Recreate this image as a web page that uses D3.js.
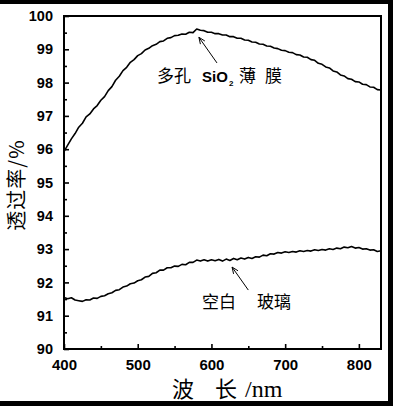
<!DOCTYPE html>
<html>
<head>
<meta charset="utf-8">
<script src="https://cdn.jsdelivr.net/npm/d3@7"></script>
<style>
  html, body { margin: 0; padding: 0; background: #fff; }
  svg { display: block; }
</style>
</head>
<body>
<svg id="chart" width="393" height="406"></svg>
<script>
// ---- data ----
const wavelengths = d3.range(400, 831, 5); // nm, 400..830 step 5
const porousSiO2 = [95.93, 96.12, 96.31, 96.47, 96.66, 96.78, 96.97, 97.06, 97.21, 97.31,
  97.47, 97.58, 97.76, 97.88, 98.07, 98.19, 98.36, 98.46, 98.61, 98.69,
  98.81, 98.87, 98.98, 99.03, 99.11, 99.15, 99.23, 99.25, 99.33, 99.35,
  99.41, 99.42, 99.46, 99.45, 99.51, 99.5, 99.61, 99.57, 99.56, 99.51,
  99.51, 99.47, 99.47, 99.43, 99.43, 99.38, 99.38, 99.33, 99.33, 99.28,
  99.27, 99.22, 99.21, 99.16, 99.15, 99.1, 99.09, 99.04, 99.02, 98.97,
  98.96, 98.91, 98.9, 98.84, 98.83, 98.77, 98.76, 98.69, 98.67, 98.58,
  98.55, 98.47, 98.44, 98.35, 98.32, 98.23, 98.2, 98.12, 98.1, 98.03,
  98.02, 97.95, 97.94, 97.87, 97.86, 97.79, 97.78];
const blankGlass = [91.55, 91.51, 91.54, 91.47, 91.45, 91.43, 91.48, 91.47, 91.53, 91.52,
  91.58, 91.6, 91.66, 91.69, 91.76, 91.78, 91.86, 91.89, 91.96, 91.98,
  92.05, 92.08, 92.16, 92.18, 92.27, 92.29, 92.37, 92.37, 92.44, 92.44,
  92.49, 92.48, 92.54, 92.53, 92.6, 92.6, 92.67, 92.64, 92.68, 92.64,
  92.68, 92.65, 92.69, 92.64, 92.7, 92.66, 92.72, 92.68, 92.73, 92.7,
  92.75, 92.72, 92.77, 92.76, 92.82, 92.8, 92.86, 92.85, 92.9, 92.88,
  92.92, 92.9, 92.93, 92.91, 92.95, 92.93, 92.96, 92.94, 92.98, 92.96,
  92.99, 92.97, 93.01, 92.99, 93.03, 93.01, 93.06, 93.04, 93.08, 93.03,
  93.05, 93.0, 93.01, 92.97, 92.98, 92.93, 92.95];
const xTicks = [400, 500, 600, 700, 800];
const xMinorTicks = [450, 550, 650, 750];
const yTicks = [90, 91, 92, 93, 94, 95, 96, 97, 98, 99, 100];
const yMinorTicks = [90.5, 91.5, 92.5, 93.5, 94.5, 95.5, 96.5, 97.5, 98.5, 99.5];

// ---- layout ----
const svg = d3.select("#chart");
const W = 393, H = 406;
const mLeft = 64, mRight = 381, mTop = 16, mBottom = 349;
const x = d3.scaleLinear().domain([400, 830]).range([mLeft, mRight]);
const y = d3.scaleLinear().domain([90, 100]).range([mBottom, mTop]);

svg.append("rect").attr("width", W).attr("height", H).attr("fill", "#fff");
// scanned-image black edges
svg.append("rect").attr("x", 0).attr("y", 0).attr("width", W).attr("height", 4).attr("fill", "#000");
svg.append("rect").attr("x", 388).attr("y", 0).attr("width", 5).attr("height", H).attr("fill", "#000");
svg.append("rect").attr("x", 0).attr("y", 401).attr("width", W).attr("height", 5).attr("fill", "#000");

const tickFont = "'Liberation Sans', Arial, sans-serif";
const cjk = "'Noto Sans CJK SC', sans-serif";

// axes (ticks pointing inward)
const xAxis = svg.append("g").attr("transform", `translate(0,${mBottom})`)
  .call(d3.axisBottom(x).tickValues(xTicks).tickSize(-5).tickPadding(10).tickFormat(d3.format("d")));
const xMinor = svg.append("g").attr("transform", `translate(0,${mBottom})`)
  .call(d3.axisBottom(x).tickValues(xMinorTicks).tickSize(-3).tickFormat(""));
const yAxis = svg.append("g").attr("transform", `translate(${mLeft},0)`)
  .call(d3.axisLeft(y).tickValues(yTicks).tickSize(-5).tickPadding(11).tickFormat(d3.format("d")));
const yMinor = svg.append("g").attr("transform", `translate(${mLeft},0)`)
  .call(d3.axisLeft(y).tickValues(yMinorTicks).tickSize(-3).tickFormat(""));

[xAxis, xMinor, yAxis, yMinor].forEach(g => {
  g.select(".domain").remove();
  g.selectAll(".tick line").attr("stroke", "#000").attr("stroke-width", 1.6);
  g.selectAll(".tick text").attr("fill", "#000").style("font-family", tickFont)
    .style("font-weight", "bold");
});
xAxis.selectAll(".tick text").style("font-size", "15px");
yAxis.selectAll(".tick text").style("font-size", "14.5px");

// frame
svg.append("rect").attr("x", mLeft).attr("y", mTop)
  .attr("width", mRight - mLeft).attr("height", mBottom - mTop)
  .attr("fill", "none").attr("stroke", "#000").attr("stroke-width", 2);

// lines
const line = d3.line().x((d, i) => x(wavelengths[i])).y(d => y(d));
[porousSiO2, blankGlass].forEach(s => {
  svg.append("path").datum(s).attr("d", line)
    .attr("fill", "none").attr("stroke", "#000").attr("stroke-width", 1.6)
    .attr("stroke-linejoin", "round");
});

// arrows (annotation, in data units)
function arrow(x0, y0, x1, y1) {
  const px0 = x(x0), py0 = y(y0), px1 = x(x1), py1 = y(y1);
  const a = Math.atan2(py1 - py0, px1 - px0), L = 7, s = 0.4;
  svg.append("line").attr("x1", px0).attr("y1", py0).attr("x2", px1).attr("y2", py1)
    .attr("stroke", "#000").attr("stroke-width", 1);
  svg.append("path")
    .attr("d", `M${px1 - L * Math.cos(a - s)},${py1 - L * Math.sin(a - s)} L${px1},${py1} L${px1 - L * Math.cos(a + s)},${py1 - L * Math.sin(a + s)}`)
    .attr("fill", "none").attr("stroke", "#000").attr("stroke-width", 1);
}
arrow(607.5, 98.59, 583, 99.36);
arrow(650, 91.77, 628, 92.46);

// annotation labels
function label(px, py, txt, font, size, weight) {
  return svg.append("text").attr("x", px).attr("y", py).text(txt)
    .style("font-family", font).style("font-size", size + "px")
    .style("font-weight", weight || "normal").attr("fill", "#000");
}
label(157, 82, "多孔", cjk, 17);
label(202, 82, "SiO", tickFont, 15, "bold");
label(229, 86, "2", tickFont, 8, "bold");
label(239, 82, "薄", cjk, 17);
label(265, 82, "膜", cjk, 17);
label(202, 308, "空白", cjk, 17);
label(257, 308, "玻璃", cjk, 17);

// axis titles
label(172, 397, "波", cjk, 22);
label(215, 397, "长", cjk, 22);
label(245, 397, "/nm", "'Liberation Serif', serif", 24);
svg.append("text").attr("transform", "translate(24,185) rotate(-90)")
  .attr("text-anchor", "middle").attr("fill", "#000")
  .style("font-family", cjk).style("font-size", "20px").style("letter-spacing", "1px")
  .text("透过率/%");
</script>
</body>
</html>
